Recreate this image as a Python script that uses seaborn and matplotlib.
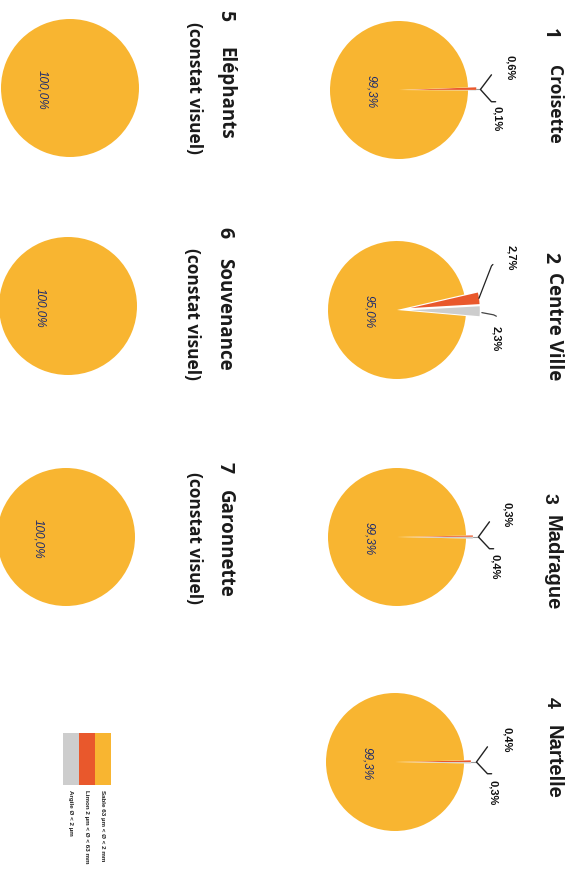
import matplotlib
matplotlib.use("Agg")
import numpy as np
import pandas as pd
import matplotlib.pyplot as plt
import seaborn as sns
from matplotlib.patches import Rectangle

# Granulometry of beach sediments, one pie per site
sites = ["Croisette", "Centre Ville", "Madrague", "Nartelle",
         "Eléphants", "Souvenance", "Garonnette"]
site_numbers = ["1", "2", "3", "4", "5", "6", "7"]
site_notes = ["", "", "", "", "(constat visuel)", "(constat visuel)", "(constat visuel)"]
sable = [99.3, 95.0, 99.3, 99.3, 100.0, 100.0, 100.0]
limon = [0.6, 2.7, 0.3, 0.4, 0.0, 0.0, 0.0]
argile = [0.1, 2.3, 0.4, 0.3, 0.0, 0.0, 0.0]
classes = ["Sable 63 µm < Ø < 2 mm", "Limon 2 µm < Ø < 63 mm", "Argile Ø < 2 µm"]

df = pd.DataFrame({"site": sites, "num": site_numbers, "note": site_notes,
                   "sable": sable, "limon": limon, "argile": argile})

sns.set_theme(style="white")
plt.rcParams["font.family"] = ["Open Sans", "DejaVu Sans"]
palette = sns.color_palette(["#F8B531", "#E9582C", "#CDCDCD"])
col_sable, col_limon, col_argile = palette

W, H = 576, 896
fig = plt.figure(figsize=(W / 100, H / 100), dpi=100)
fig.patch.set_facecolor("white")

# page layout (pixels): pie centres, start angles, explode, title placement
R = 69
span = 2.3
centres = [(399, 90), (397, 310), (397, 537), (395, 762),
           (70, 88), (68, 306), (66, 537)]
start_angles = [-0.4, -5.0, -1.3, -1.2, 90, 90, 90]
explodes = [0.12, 0.2, 0.1, 0.1, 0, 0, 0]
num_pos = [(550, 28), (550, 252), (549, 493), (551, 697), (225, 10), (224, 227), (225, 462)]
name_pos = [(554, 65), (554, 272), (552, 515), (553, 725), (225, 47), (224, 258), (225, 490)]
note_pos = [None, None, None, None, (194, 22), (192, 248), (194, 472)]
name_fonts = ["Open Sans", "Open Sans", "Liberation Sans", "Liberation Sans",
              "Open Sans", "Open Sans", "Open Sans"]
name_sizes = [12.5, 13.5, 14.5, 14.5, 13.5, 13.5, 13.5]

# label offsets in pie-radius units
upper_lab = [(1.61, 0.33), (1.66, 0.76), (1.60, 0.32), (1.62, 0.32)]
lower_lab = [(1.42, -0.41), (1.44, -0.41), (1.42, -0.43), (1.42, -0.44)]


def fmt(v):
    return f"{v:.1f}".replace(".", ",") + "%"


for i, row in df.iterrows():
    cx, cy = centres[i]
    half = R * span
    ax = fig.add_axes([(cx - half) / W, 1 - (cy + half) / H, 2 * half / W, 2 * half / H])
    ax.patch.set_alpha(0)

    parts = [(row.argile, col_argile, explodes[i]),
             (row.limon, col_limon, explodes[i]),
             (row.sable, col_sable, 0.0)]
    parts = [p for p in parts if p[0] > 0]
    wedges, _ = ax.pie([p[0] for p in parts], colors=[p[1] for p in parts],
                       explode=[p[2] for p in parts], startangle=start_angles[i],
                       counterclock=True, radius=1.0,
                       wedgeprops=dict(linewidth=0))
    ax.set_xlim(-span, span)
    ax.set_ylim(-span, span)
    ax.set_aspect("equal")
    ax.axis("off")

    ax.text(-0.40, -0.03, fmt(row.sable), rotation=-90, ha="center", va="center",
            fontsize=8.5, color="#1E2B6E", family=["Liberation Sans", "DejaVu Sans"],
            style="italic")

    if row.limon > 0:
        tips = []
        for w in wedges[:2]:
            mid = np.deg2rad((w.theta1 + w.theta2) / 2)
            tips.append((w.center[0] + w.r * np.cos(mid), w.center[1] + w.r * np.sin(mid)))
        (ax_, ay_), (lx_, ly_) = tips  # argile tip, limon tip
        ux, uy = upper_lab[i]
        bx, by = lower_lab[i]
        if i == 1:
            ax.plot([lx_, 1.37, 1.39], [ly_, 0.64, 0.66], color="#222222", lw=0.9)
            ax.plot([ax_ + 0.03, 1.40, 1.44], [ay_ - 0.02, -0.07, -0.09], color="#444444", lw=0.9)
        else:
            jx, jy = 1.18, (ay_ + ly_) / 2
            ax.plot([min(lx_, ax_), jx], [jy, jy], color="#9a9a9a", lw=0.8)
            ax.plot([1.34, jx, 1.34, 1.40], [0.22, jy, -0.17, -0.17], color="#222222", lw=1.0)
        ax.text(ux, uy, fmt(row.limon), rotation=-90, ha="center", va="center",
                fontsize=8, fontweight="bold", color="#111111",
                family=["Liberation Sans", "DejaVu Sans"])
        ax.text(bx, by, fmt(row.argile), rotation=-90, ha="center", va="center",
                fontsize=8, fontweight="bold", color="#111111",
                family=["Liberation Sans", "DejaVu Sans"])

    # site titles, rotated with the page
    nx, ny = num_pos[i]
    fig.text(nx / W, 1 - ny / H, row.num, rotation=-90, ha="center", va="top",
             fontsize=14, fontweight="bold", color="#1a1a1a",
             family=[name_fonts[i], "DejaVu Sans"])
    mx, my = name_pos[i]
    fig.text(mx / W, 1 - my / H, row.site, rotation=-90, ha="center", va="top",
             fontsize=name_sizes[i], fontweight="bold", color="#1a1a1a",
             family=[name_fonts[i], "DejaVu Sans"])
    if note_pos[i] is not None:
        tx, ty = note_pos[i]
        fig.text(tx / W, 1 - ty / H, row.note, rotation=-90, ha="center", va="top",
                 fontsize=12.5, fontweight="bold", color="#1a1a1a",
                 family=["Open Sans", "DejaVu Sans"])

# legend: swatches side by side, labels running down the page
lax = fig.add_axes([0, 0, 1, 1])
lax.set_xlim(0, W)
lax.set_ylim(H, 0)
lax.axis("off")
lax.patch.set_alpha(0)
sw_x = [95, 79, 63]
for xs, col, lab in zip(sw_x, palette, classes):
    lax.add_patch(Rectangle((xs, 733), 16, 52, facecolor=col, edgecolor="none"))
    lax.text(xs + 8, 790, lab, rotation=-90, ha="center", va="top", fontsize=4.5,
             fontweight="bold", color="#222222", family=["Liberation Sans", "DejaVu Sans"])

fig.savefig("out.png", dpi=100, facecolor="white")
